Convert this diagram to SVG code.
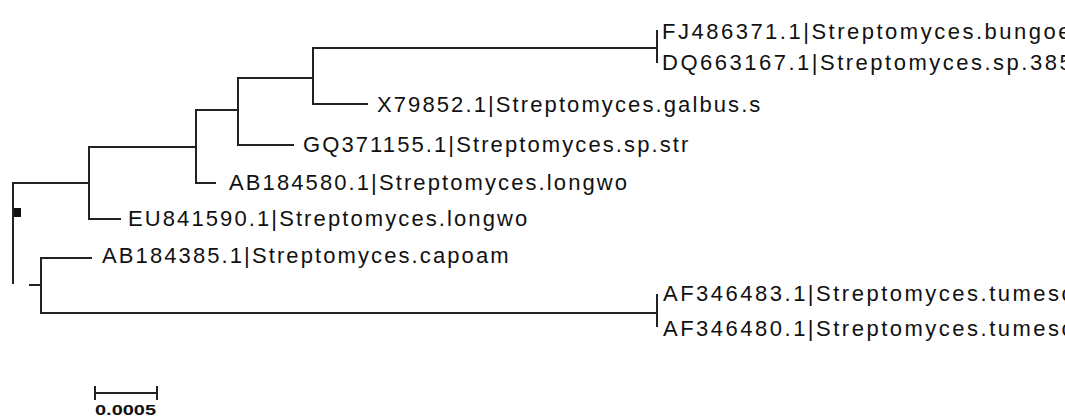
<svg xmlns="http://www.w3.org/2000/svg" width="1065" height="417" viewBox="0 0 1065 417">
<style>
.br{stroke:#222;stroke-width:2;fill:none;stroke-linecap:square}
.lb{font-family:"Liberation Sans",Arial,sans-serif;font-size:22px;letter-spacing:2.1px;fill:#111}
.rt{letter-spacing:2.5px}
.sc{font-family:"Liberation Sans",Arial,sans-serif;font-size:15px;font-weight:bold;fill:#111}
</style>
<rect width="1065" height="417" fill="#fff"/>
<g id="connectors" class="br">
<path d="M13,183 V283"/>
<path d="M13,183 H89"/>
<path d="M89,147 V219"/>
<path d="M89,219 H120"/>
<path d="M89,147 H196"/>
<path d="M196,110 V183"/>
<path d="M196,183 H215"/>
<path d="M196,110 H238"/>
<path d="M238,78 V145"/>
<path d="M238,145 H293"/>
<path d="M238,78 H313"/>
<path d="M313,48 V104"/>
<path d="M313,104 H367"/>
<path d="M313,48 H657"/>
<path d="M657,31 V62"/>
<path d="M30,285 H41"/>
<path d="M41,258 V313"/>
<path d="M41,258 H91"/>
<path d="M41,313 H657"/>
<path d="M657,295 V326"/>
</g>
<rect x="14" y="208" width="7" height="9" fill="#111"/>
<g id="FJ486371"><text class="lb rt" x="662" y="39">FJ486371.1|Streptomyces.bungoe</text></g>
<g id="DQ663167"><text class="lb rt" x="662" y="70">DQ663167.1|Streptomyces.sp.385</text></g>
<g id="X79852"><text class="lb" x="377" y="112">X79852.1|Streptomyces.galbus.s</text></g>
<g id="GQ371155"><text class="lb" x="303" y="152">GQ371155.1|Streptomyces.sp.str</text></g>
<g id="AB184580"><text class="lb" x="229" y="190">AB184580.1|Streptomyces.longwo</text></g>
<g id="EU841590"><text class="lb" x="128" y="226">EU841590.1|Streptomyces.longwo</text></g>
<g id="AB184385"><text class="lb" x="102" y="263">AB184385.1|Streptomyces.capoam</text></g>
<g id="AF346483"><text class="lb rt" x="663" y="301">AF346483.1|Streptomyces.tumesc</text></g>
<g id="AF346480"><text class="lb rt" x="663" y="336">AF346480.1|Streptomyces.tumesc</text></g>
<g id="scale">
<path class="br" d="M95,393 H157 M95,387 V399 M157,387 V399"/>
<text class="sc" x="95" y="415" textLength="61" lengthAdjust="spacingAndGlyphs">0.0005</text>
</g>
</svg>
